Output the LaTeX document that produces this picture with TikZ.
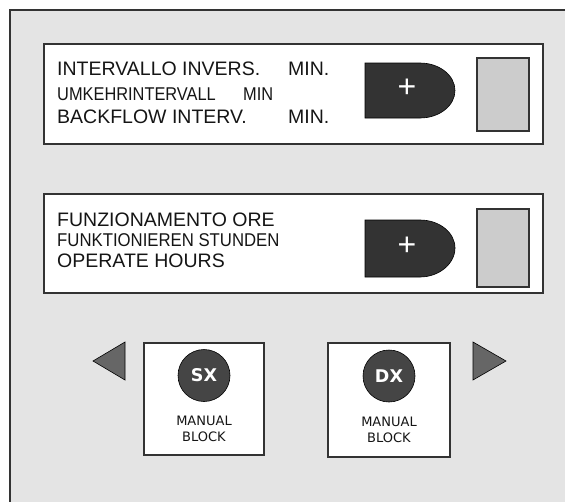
\documentclass[tikz,border=0pt]{standalone}
\usepackage{fontspec}
\setmainfont{Liberation Sans}
\newfontfamily\dejavu{DejaVu Sans}
\definecolor{bg}{HTML}{E4E4E4}
\definecolor{edge}{HTML}{333333}
\definecolor{dark}{HTML}{333333}
\definecolor{lite}{HTML}{CCCCCC}
\definecolor{circ}{HTML}{454545}
\definecolor{tri}{HTML}{666666}
\definecolor{ink}{HTML}{151515}
\tikzset{
  panel/.style={draw=edge, line width=1.2pt, fill=white},
  disp/.style={draw=edge, line width=1.2pt, fill=lite},
  btn/.style={draw=black, line width=0.6pt, fill=dark},
  lbl/.style={anchor=base west, inner sep=0pt, text=ink, font=\fontsize{19.5}{20}\selectfont},
  lblc/.style={anchor=base west, inner sep=0pt, text=ink, font=\fontsize{18.5}{19}\selectfont},
  plus/.style={text=white, inner sep=0pt, font=\fontsize{32}{32}\selectfont},
  knob/.style={circle, draw=black, line width=0.6pt, fill=circ, minimum size=52pt, inner sep=0pt, text=white, font=\dejavu\bfseries\fontsize{17.5}{17.5}\selectfont},
  small/.style={inner sep=0pt, align=center, text=ink, font=\dejavu\fontsize{13}{16}\selectfont},
  arrowtri/.style={draw=black, line width=0.6pt, fill=tri},
}
\begin{document}
\begin{tikzpicture}[x=1pt, y=-1pt]
\useasboundingbox (0,0) rectangle (565,501);
\fill[white] (0,0) rectangle (565,501);
% outer frame
\fill[bg] (10,10) rectangle (566,502);
\draw[edge, line width=1.3pt] (10,502) -- (10,10) -- (566,10);

% panel 1
\draw[panel] (44,44) rectangle (543,144);
\node[lbl] (t1) at (57,75.5) {INTERVALLO INVERS.};
\node[lbl] (m1) at (288,75.5) {MIN.};
\node[lblc] (t2) at (57,100) {\scalebox{0.885}[1]{UMKEHRINTERVALL}};
\node[lblc] (m2) at (243,100) {\scalebox{0.885}[1]{MIN}};
\node[lbl] (t3) at (57,123.5) {BACKFLOW INTERV.};
\node[lbl] (m3) at (288,123.5) {MIN.};
\draw[btn] (365,63) -- (420,63) .. controls (439.3,63) and (455,75.3) .. (455,90.5)
  .. controls (455,105.7) and (439.3,118) .. (420,118) -- (365,118) -- cycle;
\node[plus] (p1) at (407,88) {+};
\draw[disp] (477,58) rectangle (529,131);

% panel 2
\draw[panel] (44,194) rectangle (543,293);
\node[lbl] (u1) at (57,226) {FUNZIONAMENTO ORE};
\node[lblc] (u2) at (57,246) {\scalebox{0.905}[1]{FUNKTIONIEREN STUNDEN}};
\node[lbl] (u3) at (57,267) {OPERATE HOURS};
\draw[btn] (365,220) -- (420,220) .. controls (439.3,220) and (455,232.5) .. (455,248)
  .. controls (455,263.5) and (439.3,277) .. (420,277) -- (365,277) -- cycle;
\node[plus] (p2) at (407,246) {+};
\draw[disp] (477,209) rectangle (529,287);

% bottom controls
\draw[arrowtri] (93,361) -- (125,342) -- (125,380) -- cycle;
\draw[arrowtri] (506,361) -- (473,342) -- (473,380) -- cycle;

\draw[panel] (144,343) rectangle (264,455);
\node[knob] (sx) at (204,375.5) {SX};
\node[small] (mb1) at (204,429) {MANUAL\\BLOCK};

\draw[panel] (328,343) rectangle (450,457);
\node[knob] (dx) at (389,376) {DX};
\node[small] (mb2) at (389,430) {MANUAL\\BLOCK};
\end{tikzpicture}
\end{document}
